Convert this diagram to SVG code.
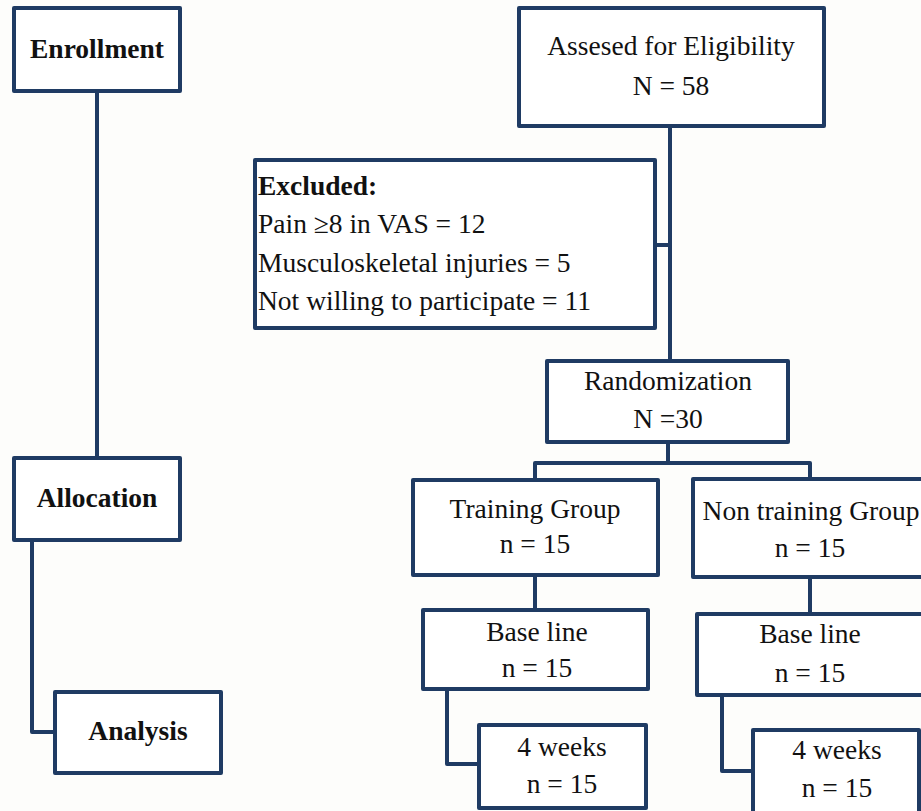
<svg xmlns="http://www.w3.org/2000/svg" width="921" height="811" viewBox="0 0 921 811">
<style>
.box{fill:#ffffff;stroke:#1f3b63;stroke-width:4;stroke-linejoin:round}
.con{fill:none;stroke:#1f3b63;stroke-width:4;stroke-linejoin:round}
text{font-family:"Liberation Serif","Times New Roman",serif;font-size:27.5px;fill:#111}
.c{text-anchor:middle}
.b{font-weight:bold}
</style>
<rect width="921" height="811" fill="#fdfdfb"/>
<g id="connectors">
<path class="con" d="M97,91 V458"/>
<path class="con" d="M32,540 V732 H55"/>
<path class="con" d="M670,126 V361"/>
<path class="con" d="M655,245 H670"/>
<path class="con" d="M668,442 V463"/>
<path class="con" d="M535,480 V463 H810 V479"/>
<path class="con" d="M535,575 V610"/>
<path class="con" d="M447,689 V764 H479"/>
<path class="con" d="M810,577 V614"/>
<path class="con" d="M722,695 V771 H753"/>
</g>
<g id="enrollment">
<rect class="box" x="14" y="8" width="166" height="83"/>
<text class="c b" x="97" y="58">Enrollment</text>
</g>
<g id="allocation">
<rect class="box" x="14" y="458" width="166" height="82"/>
<text class="c b" x="97" y="507">Allocation</text>
</g>
<g id="analysis">
<rect class="box" x="55" y="692" width="166" height="81"/>
<text class="c b" x="138" y="740">Analysis</text>
</g>
<g id="assessed">
<rect class="box" x="519" y="8" width="305" height="118"/>
<text class="c" x="671" y="55">Assesed for Eligibility</text>
<text class="c" x="671" y="95">N = 58</text>
</g>
<g id="excluded">
<rect class="box" x="255" y="160" width="400" height="168"/>
<text class="b" x="258" y="195">Excluded:</text>
<text x="258" y="233">Pain ≥8 in VAS = 12</text>
<text x="258" y="272">Musculoskeletal injuries = 5</text>
<text x="258" y="310">Not willing to participate = 11</text>
</g>
<g id="randomization">
<rect class="box" x="547" y="361" width="241" height="81"/>
<text class="c" x="668" y="390">Randomization</text>
<text class="c" x="668" y="428">N =30</text>
</g>
<g id="training">
<rect class="box" x="413" y="480" width="245" height="95"/>
<text class="c" x="535" y="518">Training Group</text>
<text class="c" x="535" y="553">n = 15</text>
</g>
<g id="nontraining">
<rect class="box" x="693" y="479" width="240" height="98"/>
<text class="c" x="811" y="520">Non training Group</text>
<text class="c" x="810" y="557">n = 15</text>
</g>
<g id="baseline-training">
<rect class="box" x="423" y="610" width="225" height="79"/>
<text class="c" x="537" y="641">Base line</text>
<text class="c" x="537" y="677">n = 15</text>
</g>
<g id="weeks-training">
<rect class="box" x="479" y="725" width="167" height="83"/>
<text class="c" x="562" y="756">4 weeks</text>
<text class="c" x="562" y="793">n = 15</text>
</g>
<g id="baseline-nontraining">
<rect class="box" x="697" y="614" width="240" height="81"/>
<text class="c" x="810" y="643">Base line</text>
<text class="c" x="810" y="682">n = 15</text>
</g>
<g id="weeks-nontraining">
<rect class="box" x="753" y="730" width="166" height="90"/>
<text class="c" x="837" y="759">4 weeks</text>
<text class="c" x="837" y="797">n = 15</text>
</g>
</svg>
